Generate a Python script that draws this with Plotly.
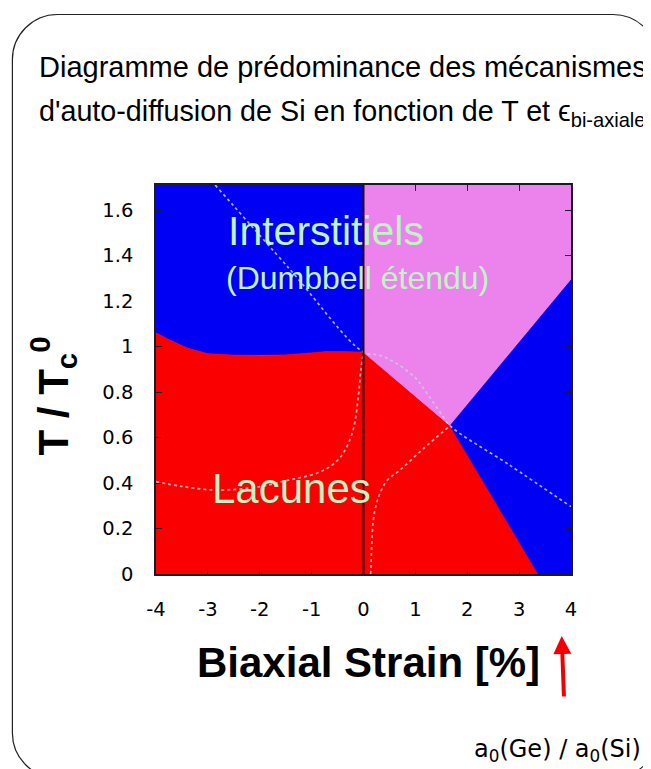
import plotly.graph_objects as go

# ---------------- data (Biaxial strain [%], T / Tc0) ----------------
x_range = [-4, 4]
y_range = [0, 1.71]

x_tickvals = [-4, -3, -2, -1, 0, 1, 2, 3, 4]
x_ticktext = ["-4", "-3", "-2", "-1", "0", "1", "2", "3", "4"]
y_tickvals = [0, 0.2, 0.4, 0.6, 0.8, 1.0, 1.2, 1.4, 1.6]
y_ticktext = ["0", "0.2", "0.4", "0.6", "0.8", "1", "1.2", "1.4", "1.6"]

# phase boundaries
lac_int_left_x = [-4.0, -3.75, -3.4, -3.0, -2.5, -2.0, -1.5, -1.0, -0.7, -0.3, 0.0]
lac_int_left_y = [1.06, 1.03, 0.993, 0.968, 0.962, 0.961, 0.963, 0.972, 0.978, 0.977, 0.975]

lac_int_right_x = [0.0, 0.5, 1.0, 1.67]
lac_int_right_y = [0.975, 0.878, 0.782, 0.652]

int_right_x = [1.67, 2.5, 3.0, 3.5, 4.0]
int_right_y = [0.652, 0.88, 1.02, 1.155, 1.292]

lac_right_x = [1.67, 2.5, 3.37]
lac_right_y = [0.652, 0.334, 0.0]

# dotted guide curves
sep_a_x = [-2.86, -1.43, 0.0, 0.3, 0.64, 1.0, 1.22, 1.45, 1.67, 2.8, 4.0]
sep_a_y = [1.71, 1.342, 0.975, 0.962, 0.925, 0.862, 0.795, 0.72, 0.652, 0.481, 0.296]

sep_b_x = [-4.0, -3.5, -2.83, -2.0, -1.5, -0.9, -0.6, -0.39, -0.2, -0.1, -0.05, 0.0]
sep_b_y = [0.406, 0.385, 0.369, 0.384, 0.41, 0.443, 0.48, 0.531, 0.633, 0.78, 0.9, 0.975]

sep_c_x = [0.139, 0.158, 0.189, 0.25, 0.318, 0.45, 0.704, 1.15, 1.67]
sep_c_y = [0.0, 0.12, 0.237, 0.31, 0.355, 0.41, 0.457, 0.55, 0.652]

BLUE = "#0000f5"
RED = "#fb0000"
VIOLET = "#ec82ec"
LABEL_GREEN = "#bff5c2"
DOT = "rgba(205,205,220,0.85)"

xmin, xmax = x_range
ymin, ymax = y_range

fig = go.Figure()


def region(xs, ys, color):
    fig.add_trace(go.Scatter(x=xs, y=ys, mode="lines", fill="toself",
                             fillcolor=color, line=dict(color=color, width=0.8),
                             hoverinfo="skip", showlegend=False))


# upper-left blue (interstitial)
region(lac_int_left_x + [0.0, xmin], lac_int_left_y + [ymax, ymax], BLUE)
# red (vacancies)
region([xmin] + lac_int_left_x + lac_int_right_x[1:] + lac_right_x[1:],
       [ymin] + lac_int_left_y + lac_int_right_y[1:] + lac_right_y[1:], RED)
# violet (extended dumbbell)
region(lac_int_right_x + int_right_x[1:] + [xmax, 0.0],
       lac_int_right_y + int_right_y[1:] + [ymax, ymax], VIOLET)
# lower-right blue
region(int_right_x + [xmax] + lac_right_x[::-1],
       int_right_y + [ymin] + lac_right_y[::-1], BLUE)

for xs, ys in [(sep_a_x, sep_a_y), (sep_b_x, sep_b_y), (sep_c_x, sep_c_y)]:
    fig.add_trace(go.Scatter(x=xs, y=ys, mode="lines", line_shape="spline",
                             line=dict(color=DOT, width=1.7, dash="dot"),
                             hoverinfo="skip", showlegend=False))

fig.add_vline(x=0, line=dict(color="#2a0808", width=2))

# ---------------- layout ----------------
OFF = 8  # page body margin
W, H = 651 - OFF, 769 - OFF
ML, MT = 156 - OFF, 185 - OFF
PW, PH = 415, 389
MR, MB = W - ML - PW, H - MT - PH


def px(xp):
    """page pixel x -> paper x"""
    return (xp - OFF - ML) / PW


def py(yp):
    """page pixel y -> paper y"""
    return (MT + PH - (yp - OFF)) / PH


FONT = "Liberation Sans, Arial, Helvetica, sans-serif"
TICKFONT = "DejaVu Sans, sans-serif"

axis_common = dict(showgrid=False, zeroline=False, showline=True, mirror="ticks",
                   linecolor="#1a1a2a", linewidth=1.5, ticks="inside", ticklen=6,
                   tickwidth=1.2, tickcolor="#1a1a2a",
                   tickfont=dict(family=TICKFONT, size=19.5, color="black"))

fig.update_xaxes(range=x_range, tickvals=x_tickvals, ticktext=x_ticktext,
                 ticklabelstandoff=17, **axis_common)
fig.update_yaxes(range=y_range, tickvals=y_tickvals, ticktext=y_ticktext,
                 ticklabelstandoff=17, **axis_common)

ann = []
# slide title
ann.append(dict(text="Diagramme de prédominance des mécanismes", xref="paper", yref="paper",
                x=px(37), y=py(67), xanchor="left", yanchor="middle", showarrow=False,
                font=dict(family=FONT, size=29, color="black")))
ann.append(dict(text="d'auto-diffusion de Si en fonction de T et ϵ<sub>bi-axiale</sub>",
                xref="paper", yref="paper", x=px(37), y=py(112.5), xanchor="left",
                yanchor="middle", showarrow=False,
                font=dict(family=FONT, size=28.7, color="black")))
# region labels
ann.append(dict(text="Interstitiels", x=-2.66, y=1.51, xanchor="left", yanchor="middle",
                showarrow=False, font=dict(family=FONT, size=41, color=LABEL_GREEN)))
ann.append(dict(text="(Dumbbell étendu)", x=-2.68, y=1.30, xanchor="left", yanchor="middle",
                showarrow=False, font=dict(family=FONT, size=32, color=LABEL_GREEN)))
ann.append(dict(text="Lacunes", x=-2.95, y=0.378, xanchor="left", yanchor="middle",
                showarrow=False, font=dict(family=FONT, size=42, color=LABEL_GREEN)))
# axis titles
ann.append(dict(text="<b>Biaxial Strain [%]</b>", xref="paper", yref="paper",
                x=px(368.8), y=py(662.7), xanchor="center", yanchor="middle", showarrow=False,
                font=dict(family=FONT, size=42, color="black")))
ann.append(dict(text="<b>T / T<sub>c</sub><sup>0</sup></b>", xref="paper", yref="paper",
                x=px(53), y=py(396.5), xanchor="center", yanchor="middle", showarrow=False,
                textangle=-90, font=dict(family=FONT, size=42, color="black")))
# arrow + lattice ratio
ann.append(dict(text="", xref="paper", yref="paper", x=px(561.7), y=py(636),
                ax=2.3, ay=62, showarrow=True, arrowhead=2, arrowsize=0.9,
                arrowwidth=4, arrowcolor="#f00000", standoff=0))
ann.append(dict(text="a<sub>0</sub>(Ge) / a<sub>0</sub>(Si)", xref="paper", yref="paper",
                x=px(472), y=py(750), xanchor="left", yanchor="middle", showarrow=False,
                font=dict(family="DejaVu Sans, sans-serif", size=24, color="black")))

# rounded slide frame (page pixels)
fx0, fy0, fx1, fy1, rad = 12.4, 14.5, 658, 778, 45
k = 0.45
path = (
    f"M {px(fx0)},{py(fy0 + rad)} "
    f"C {px(fx0)},{py(fy0 + rad * k)} {px(fx0 + rad * k)},{py(fy0)} {px(fx0 + rad)},{py(fy0)} "
    f"L {px(fx1 - rad)},{py(fy0)} "
    f"C {px(fx1 - rad * k)},{py(fy0)} {px(fx1)},{py(fy0 + rad * k)} {px(fx1)},{py(fy0 + rad)} "
    f"L {px(fx1)},{py(fy1 - rad)} "
    f"C {px(fx1)},{py(fy1 - rad * k)} {px(fx1 - rad * k)},{py(fy1)} {px(fx1 - rad)},{py(fy1)} "
    f"L {px(fx0 + rad)},{py(fy1)} "
    f"C {px(fx0 + rad * k)},{py(fy1)} {px(fx0)},{py(fy1 - rad * k)} {px(fx0)},{py(fy1 - rad)} Z"
)
fig.add_shape(type="path", path=path, xref="paper", yref="paper",
              line=dict(color="#222222", width=1.2), layer="below")

fig.update_layout(width=W, height=H, margin=dict(l=ML, r=MR, t=MT, b=MB),
                  paper_bgcolor="white", plot_bgcolor="white",
                  showlegend=False, annotations=ann)

fig.write_html("out.html")
